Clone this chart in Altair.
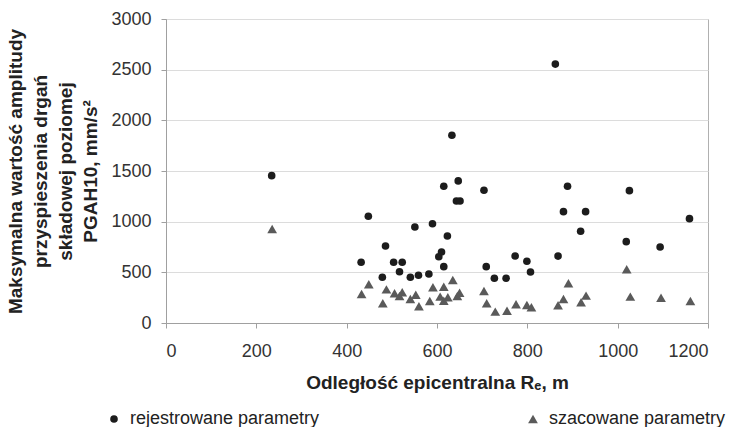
import altair as alt
import pandas as pd

# rejestrowane parametry (recorded)
rec_x = [234, 432, 448, 479, 486, 504, 517, 523, 541, 551, 559, 582, 590, 604, 610, 615, 615,
         623, 633, 643, 647, 651, 704, 709, 727, 753, 773, 799, 807, 862, 868, 880, 889, 918,
         929, 1019, 1026, 1094, 1159]
rec_y = [1454, 599, 1053, 451, 760, 599, 506, 599, 451, 948, 471, 484, 980, 654, 701, 556, 1349,
         859, 1853, 1204, 1402, 1204, 1310, 556, 441, 441, 661, 609, 503, 2555, 660, 1099, 1350, 905,
         1099, 803, 1306, 750, 1030]

# szacowane parametry (estimated)
est_x = [235, 433, 449, 480, 488, 506, 517, 523, 541, 553, 560, 584, 591, 607, 615, 615, 624,
         635, 645, 650, 704, 710, 729, 755, 775, 799, 809, 868, 880, 891, 919, 930, 1020, 1028,
         1096, 1161]
est_y = [928, 286, 382, 194, 332, 293, 266, 303, 237, 279, 165, 217, 352, 260, 220, 358, 254,
         424, 267, 299, 316, 194, 112, 121, 185, 178, 155, 175, 237, 392, 204, 270, 530, 260,
         250, 217]

series = ["rejestrowane parametry", "szacowane parametry"]
x_ticks = [0, 200, 400, 600, 800, 1000, 1200]
y_ticks = [0, 500, 1000, 1500, 2000, 2500, 3000]
y_title = ["Maksymalna wartość amplitudy", "przyspieszenia drgań",
           "składowej poziomej", "PGAH10, mm/s²"]
x_title = "Odległość epicentralna Rₑ, m"

df = pd.concat([
    pd.DataFrame({"x": rec_x, "y": rec_y, "s": series[0]}),
    pd.DataFrame({"x": est_x, "y": est_y, "s": series[1]}),
])

FONT = "Liberation Sans"

legend = alt.Legend(title=None, orient="none", direction="horizontal",
                    legendX=-61, legendY=391, columnPadding=204, padding=0,
                    symbolSize=42, labelFontSize=18, labelFont=FONT, labelOffset=7,
                    labelLimit=400, labelColor="#222", symbolStrokeWidth=0)

chart = alt.Chart(df).mark_point(filled=True, opacity=1).encode(
    x=alt.X("x:Q",
            scale=alt.Scale(domain=[0, 1200], nice=False),
            axis=alt.Axis(values=x_ticks, grid=False, format="d",
                          title=x_title, titleY=65, titleBaseline="alphabetic",
                          labelBaseline="alphabetic", labelPadding=28)),
    y=alt.Y("y:Q",
            scale=alt.Scale(domain=[0, 3000], nice=False),
            axis=alt.Axis(values=y_ticks, grid=True, format="d",
                          title=y_title, titleX=-145, titleY=152, titleAngle=270,
                          titleAlign="center", titleBaseline="alphabetic",
                          titleLineHeight=25, labelPadding=10)),
    shape=alt.Shape("s:N", scale=alt.Scale(domain=series, range=["circle", "triangle-up"]),
                    legend=legend),
    color=alt.Color("s:N", scale=alt.Scale(domain=series, range=["#1c1c1c", "#5a5a5a"]),
                    legend=legend),
    size=alt.Size("s:N", scale=alt.Scale(domain=series, range=[58, 95]), legend=None),
).properties(
    width=542, height=304,
    autosize=alt.AutoSizeParams(type="none"),
    padding={"left": 166, "top": 19, "right": 22, "bottom": 104},
).configure(
    font=FONT
).configure_view(
    stroke="#b0b0b0", strokeWidth=1
).configure_axis(
    labelFont=FONT, labelFontSize=18, labelColor="#333",
    titleFont=FONT, titleFontSize=19, titleFontWeight="bold", titleColor="#222",
    domainColor="#a0a0a0", tickColor="#a0a0a0", tickSize=5, gridColor="#dcdcdc"
)

chart.save("out.html", embed_options={"renderer": "svg", "actions": False})
